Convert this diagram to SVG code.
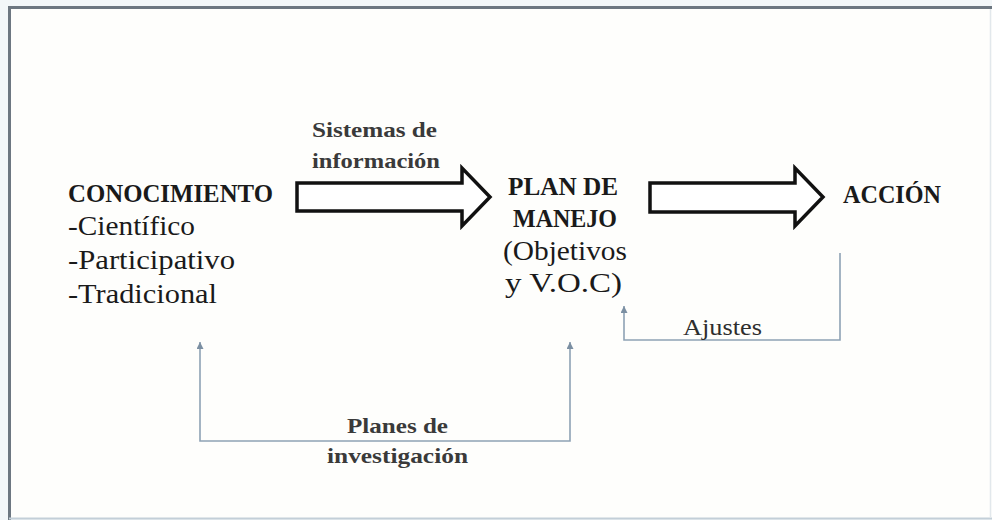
<svg xmlns="http://www.w3.org/2000/svg" width="992" height="520" viewBox="0 0 992 520">
  <style>
    .t { font-family: "Liberation Serif", "Times New Roman", serif; fill: #1a1a1a; }
    .b { font-weight: bold; font-size: 25px; }
    .r { font-size: 27px; }
    .lbl { font-family: "Liberation Serif", "Times New Roman", serif; fill: #3a3a3a; font-size: 22px; font-weight: bold; }
    .lbn { font-family: "Liberation Serif", "Times New Roman", serif; fill: #2e2e2e; font-size: 23px; }
    .blk { fill: #ffffff; stroke: #111111; stroke-width: 3.5; stroke-linejoin: miter; }
    .thin { fill: none; stroke: #8ea2b4; stroke-width: 1.6; }
  </style>
  <defs>
    <marker id="ah" viewBox="0 0 10 10" refX="10" refY="5" markerWidth="7" markerHeight="7" markerUnits="userSpaceOnUse" orient="auto-start-reverse">
      <path d="M0,0 L10,5 L0,10 z" fill="#7b8fa2"/>
    </marker>
  </defs>

  <rect x="0" y="0" width="992" height="520" fill="#f3f7f9"/>
  <rect x="9" y="7" width="983" height="511" fill="#fefefc"/>
  <g id="frame">
    <line x1="8" y1="7.5" x2="992" y2="7.5" stroke="#6d7781" stroke-width="3"/>
    <line x1="9.5" y1="6" x2="9.5" y2="520" stroke="#6d7781" stroke-width="3"/>
    <line x1="9" y1="518.5" x2="992" y2="518.5" stroke="#c3cfd8" stroke-width="2"/>
    <line x1="990.5" y1="9" x2="990.5" y2="518" stroke="#e2e8ec" stroke-width="1.5"/>
  </g>

  <g id="connectors">
    <polygon class="blk" points="297,183 462,183 462,168 490,197 462,226 462,211 297,211"/>
    <polygon class="blk" points="650,183 795,183 795,168 823,197 795,226 795,212 650,212"/>
    <path class="thin" d="M840,253 V340 H624 V306" marker-end="url(#ah)"/>
    <path class="thin" d="M200,342 V441 H570 V342" marker-start="url(#ah)" marker-end="url(#ah)"/>
    <text class="lbl" x="312" y="137" textLength="125" lengthAdjust="spacingAndGlyphs">Sistemas de</text>
    <text class="lbl" x="312" y="168" textLength="128" lengthAdjust="spacingAndGlyphs">información</text>
    <text class="lbn" x="683" y="335" textLength="79" lengthAdjust="spacingAndGlyphs">Ajustes</text>
    <text class="lbl" x="347" y="433" textLength="101" lengthAdjust="spacingAndGlyphs">Planes de</text>
    <text class="lbl" x="327" y="463" textLength="141" lengthAdjust="spacingAndGlyphs">investigación</text>
  </g>

  <g id="conocimiento">
    <text class="t b" x="68" y="202" textLength="205" lengthAdjust="spacingAndGlyphs">CONOCIMIENTO</text>
    <text class="t r" x="68" y="235" textLength="127" lengthAdjust="spacingAndGlyphs">-Científico</text>
    <text class="t r" x="68" y="269" textLength="167" lengthAdjust="spacingAndGlyphs">-Participativo</text>
    <text class="t r" x="68" y="303" textLength="149" lengthAdjust="spacingAndGlyphs">-Tradicional</text>
  </g>

  <g id="plan-de-manejo">
    <text class="t b" x="508" y="195" textLength="110" lengthAdjust="spacingAndGlyphs">PLAN DE</text>
    <text class="t b" x="513" y="227" textLength="104" lengthAdjust="spacingAndGlyphs">MANEJO</text>
    <text class="t r" x="503" y="260" textLength="124" lengthAdjust="spacingAndGlyphs">(Objetivos</text>
    <text class="t r" x="505" y="292" textLength="117" lengthAdjust="spacingAndGlyphs">y V.O.C)</text>
  </g>

  <g id="accion">
    <text class="t b" x="843" y="203" textLength="98" lengthAdjust="spacingAndGlyphs">ACCIÓN</text>
  </g>
</svg>
